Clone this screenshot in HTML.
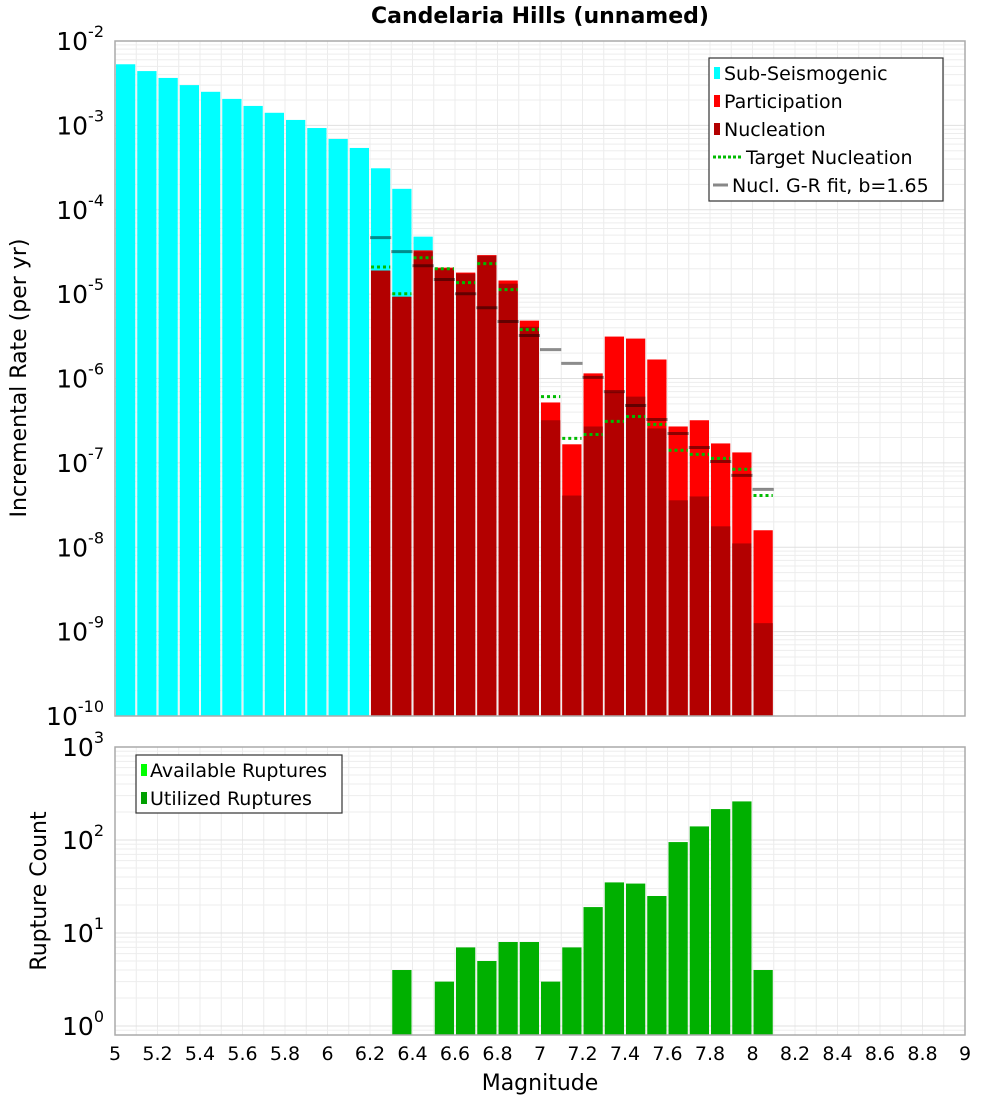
<!DOCTYPE html>
<html><head><meta charset="utf-8"><style>
body{margin:0;background:#fff}
svg{display:block;font-family:"DejaVu Sans","Liberation Sans",sans-serif}
</style></head><body>
<svg id="chart" width="1000" height="1100" viewBox="0 0 1000 1100" xmlns="http://www.w3.org/2000/svg">
<text x="540" y="23" text-anchor="middle" font-size="22" font-weight="bold">Candelaria Hills (unnamed)</text>
<g id="topPanel"></g><g id="botPanel"></g>
</svg>
<script>
// ---- data ----
const subMags = [5.05,5.15,5.25,5.35,5.45,5.55,5.65,5.75,5.85,5.95,6.05,6.15,6.25,6.35,6.45];
const subSeis = [5.3e-3,4.4e-3,3.65e-3,3.0e-3,2.5e-3,2.06e-3,1.7e-3,1.41e-3,1.16e-3,9.3e-4,6.9e-4,5.4e-4,3.1e-4,1.77e-4,4.8e-5];
const magBins = [6.25,6.35,6.45,6.55,6.65,6.75,6.85,6.95,7.05,7.15,7.25,7.35,7.45,7.55,7.65,7.75,7.85,7.95,8.05];
const participation = [1.9e-5,9.3e-6,3.3e-5,2.06e-5,1.8e-5,2.9e-5,1.45e-5,4.85e-6,5.2e-7,1.66e-7,1.15e-6,3.14e-6,2.97e-6,1.68e-6,2.7e-7,3.2e-7,1.7e-7,1.33e-7,1.59e-8];
const nucleation = [1.9e-5,9.3e-6,3.2e-5,2.0e-5,1.75e-5,2.85e-5,1.33e-5,4.1e-6,3.2e-7,4.1e-8,2.7e-7,6.8e-7,6.1e-7,2.56e-7,3.6e-8,4.0e-8,1.77e-8,1.11e-8,1.26e-9];
const targetNuc = [2.1e-5,1.01e-5,2.7e-5,2.0e-5,1.37e-5,2.3e-5,1.13e-5,3.8e-6,6.1e-7,1.95e-7,2.17e-7,3.1e-7,3.55e-7,2.86e-7,1.41e-7,1.26e-7,1.13e-7,8.4e-8,4.1e-8];
const grFit = [4.67e-5,3.19e-5,2.17e-5,1.49e-5,1.01e-5,6.9e-6,4.73e-6,3.23e-6,2.2e-6,1.51e-6,1.03e-6,7.0e-7,4.79e-7,3.27e-7,2.23e-7,1.52e-7,1.04e-7,7.1e-8,4.85e-8];
const countMags = [6.35,6.55,6.65,6.75,6.85,6.95,7.05,7.15,7.25,7.35,7.45,7.55,7.65,7.75,7.85,7.95,8.05];
const utilized = [4,3,7,5,8,8,3,7,19,35,34,25,95,140,215,260,4];
const xTicks = [5,5.2,5.4,5.6,5.8,6,6.2,6.4,6.6,6.8,7,7.2,7.4,7.6,7.8,8,8.2,8.4,8.6,8.8,9];
const topExps = [-2,-3,-4,-5,-6,-7,-8,-9,-10];
const botExps = [3,2,1,0];

const NS="http://www.w3.org/2000/svg";
const X0=115,X1=965;
const xs=m=>X0+(m-5)*(X1-X0)/4;
const TY0=41,TY1=716;
const ty=v=>TY0+(-2-Math.log10(v))*(TY1-TY0)/8;
const BY0=747,BY1=1035;
const by=v=>BY0+(3-Math.log10(v))*93;
const BW=(X1-X0)/40;
function mk(tag,attrs,parent){const e=document.createElementNS(NS,tag);for(const k in attrs)e.setAttribute(k,attrs[k]);parent.appendChild(e);return e;}
const topG=document.getElementById('topPanel'), botG=document.getElementById('botPanel');

function grid(g,y0,y1,yfun,emin,emax){
  for(let m=5;m<=9.001;m+=0.1){const x=xs(m);
    const l=mk('line',{x1:x,x2:x,y1:y0,y2:y1,stroke:'#ececec','stroke-width':1},g);
    
    }
  for(let e=emin;e<emax;e++)for(let k=1;k<10;k++){const y=yfun(k*Math.pow(10,e));if(y<y0||y>y1)continue;
    const l=mk('line',{x1:X0,x2:X1,y1:y,y2:y,stroke:k==1?'#e0e0e0':'#ededed','stroke-width':1},g);
    
    }
}
function frame(g,y0,y1){const r=mk('rect',{x:X0,y:y0,width:X1-X0,height:y1-y0,fill:'none',stroke:'#aaa','stroke-width':1.5},g);
  
  }
function ylab(g,e,y){const t=mk('text',{x:104,y:y+9,'text-anchor':'end','font-size':25},g);
  
  
  t.textContent='10';const s=mk('tspan',{dy:-13,'font-size':16},t);s.textContent=String(e);}

// top panel
grid(topG,TY0,TY1,ty,-10,-2);
subMags.forEach((m,i)=>{const y=ty(subSeis[i]);const r=mk('rect',{x:xs(m-0.05)+1,y:y,width:BW-2,height:TY1-y,fill:'#00ffff'},topG);
  
  });
magBins.forEach((m,i)=>{const y=ty(participation[i]);const r=mk('rect',{x:xs(m-0.05)+1,y:y,width:BW-2,height:TY1-y,fill:'#ff0000'},topG);
  
  });
magBins.forEach((m,i)=>{const y=ty(nucleation[i]);const r=mk('rect',{x:xs(m-0.05)+1,y:y,width:BW-2,height:TY1-y,fill:'#b30000'},topG);
  
  });
magBins.forEach((m,i)=>{const y=ty(grFit[i]);const l=mk('line',{x1:xs(m-0.05),x2:xs(m+0.05),y1:y,y2:y,stroke:'rgba(0,0,0,0.45)','stroke-width':3},topG);
  
  });
magBins.forEach((m,i)=>{const y=ty(targetNuc[i]);const l=mk('line',{x1:xs(m-0.05)+1,x2:xs(m+0.05)-1,y1:y,y2:y,stroke:'#00bb00','stroke-width':3,'stroke-dasharray':'3,3'},topG);
  
  });
frame(topG,TY0,TY1);
topExps.forEach(e=>ylab(topG,e,ty(Math.pow(10,e))));
{const t=mk('text',{x:26,y:378,'text-anchor':'middle','font-size':22,transform:'rotate(-90 26 378)'},topG);
 
 
 t.textContent='Incremental Rate (per yr)';}
// legend top
{const g=mk('g',{},topG);
 
 
 mk('rect',{x:709,y:58,width:234,height:143,fill:'#fff',stroke:'#333','stroke-width':1.2},g);
 const items=[['Sub-Seismogenic','#00ffff','bar'],['Participation','#ff0000','bar'],['Nucleation','#b30000','bar'],['Target Nucleation','#00bb00','dot'],['Nucl. G-R fit, b=1.65','#888','line']];
 items.forEach((it,i)=>{const y=73+i*28;
  if(it[2]=='bar')mk('rect',{x:714,y:y-6,width:6,height:12,fill:it[1]},g);
  else if(it[2]=='dot')mk('line',{x1:713,x2:741,y1:y,y2:y,stroke:it[1],'stroke-width':3,'stroke-dasharray':'3,2'},g);
  else mk('line',{x1:713,x2:728,y1:y,y2:y,stroke:it[1],'stroke-width':3},g);
  const t=mk('text',{x:it[2]=='bar'?724:(it[2]=='dot'?746:732),y:y+7,'font-size':19},g);
  
  
  t.textContent=it[0];});}

// bottom panel
grid(botG,BY0,BY1,by,-1,3);
countMags.forEach((m,i)=>{const y=by(utilized[i]);const r=mk('rect',{x:xs(m-0.05)+1,y:y,width:BW-2,height:BY1-y,fill:'#00b000'},botG);
  
  });
frame(botG,BY0,BY1);
botExps.forEach(e=>ylab(botG,e,by(Math.pow(10,e))));
{const t=mk('text',{x:46,y:891,'text-anchor':'middle','font-size':22,transform:'rotate(-90 46 891)'},botG);
 
 
 t.textContent='Rupture Count';}
{const g=mk('g',{},botG);
 
 
 mk('rect',{x:136,y:755,width:206,height:58,fill:'#fff',stroke:'#333','stroke-width':1.2},g);
 [['Available Ruptures','#00ff00'],['Utilized Ruptures','#00a000']].forEach((it,i)=>{const y=770+i*28;
  mk('rect',{x:141,y:y-6,width:6,height:12,fill:it[1]},g);
  const t=mk('text',{x:150,y:y+7,'font-size':19},g);
  
  
  t.textContent=it[0];});}
xTicks.forEach(v=>{const t=mk('text',{x:xs(v),y:1060,'text-anchor':'middle','font-size':19},botG);
  
  
  t.textContent=String(v);});
{const t=mk('text',{x:540,y:1090,'text-anchor':'middle','font-size':22},botG);
 
 
 t.textContent='Magnitude';}
</script>
</body></html>
